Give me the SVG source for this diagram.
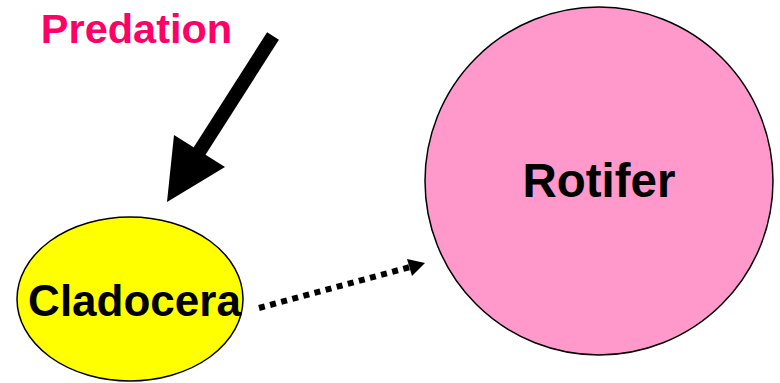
<svg xmlns="http://www.w3.org/2000/svg" width="780" height="383" viewBox="0 0 780 383">
<style>
text{font-family:"Liberation Sans",Arial,sans-serif;font-weight:bold;}
.node{stroke:#000;stroke-width:1.5;}
</style>
<rect width="780" height="383" fill="#fff"/>
<g id="rotifer">
<circle class="node" cx="599" cy="181" r="174" fill="#FF99CC"/>
<text x="599" y="197" font-size="47.5" text-anchor="middle" fill="#000">Rotifer</text>
</g>
<g id="cladocera">
<ellipse class="node" cx="130" cy="299" rx="113" ry="82" fill="#FFFF00"/>
<text x="134.5" y="316" font-size="44" text-anchor="middle" fill="#000">Cladocera</text>
</g>
<g id="predation">
<text x="136.5" y="43" font-size="41.5" text-anchor="middle" fill="#FF0066">Predation</text>
</g>
<g id="connectors">
<line x1="273" y1="36" x2="199" y2="152" stroke="#000" stroke-width="14"/>
<polygon points="167,202 174,135 225,167" fill="#000"/>
<line x1="259" y1="308" x2="410" y2="267" stroke="#000" stroke-width="6" stroke-dasharray="6 5.5"/>
<polygon points="425,263 407,259 412,276" fill="#000"/>
</g>
</svg>
